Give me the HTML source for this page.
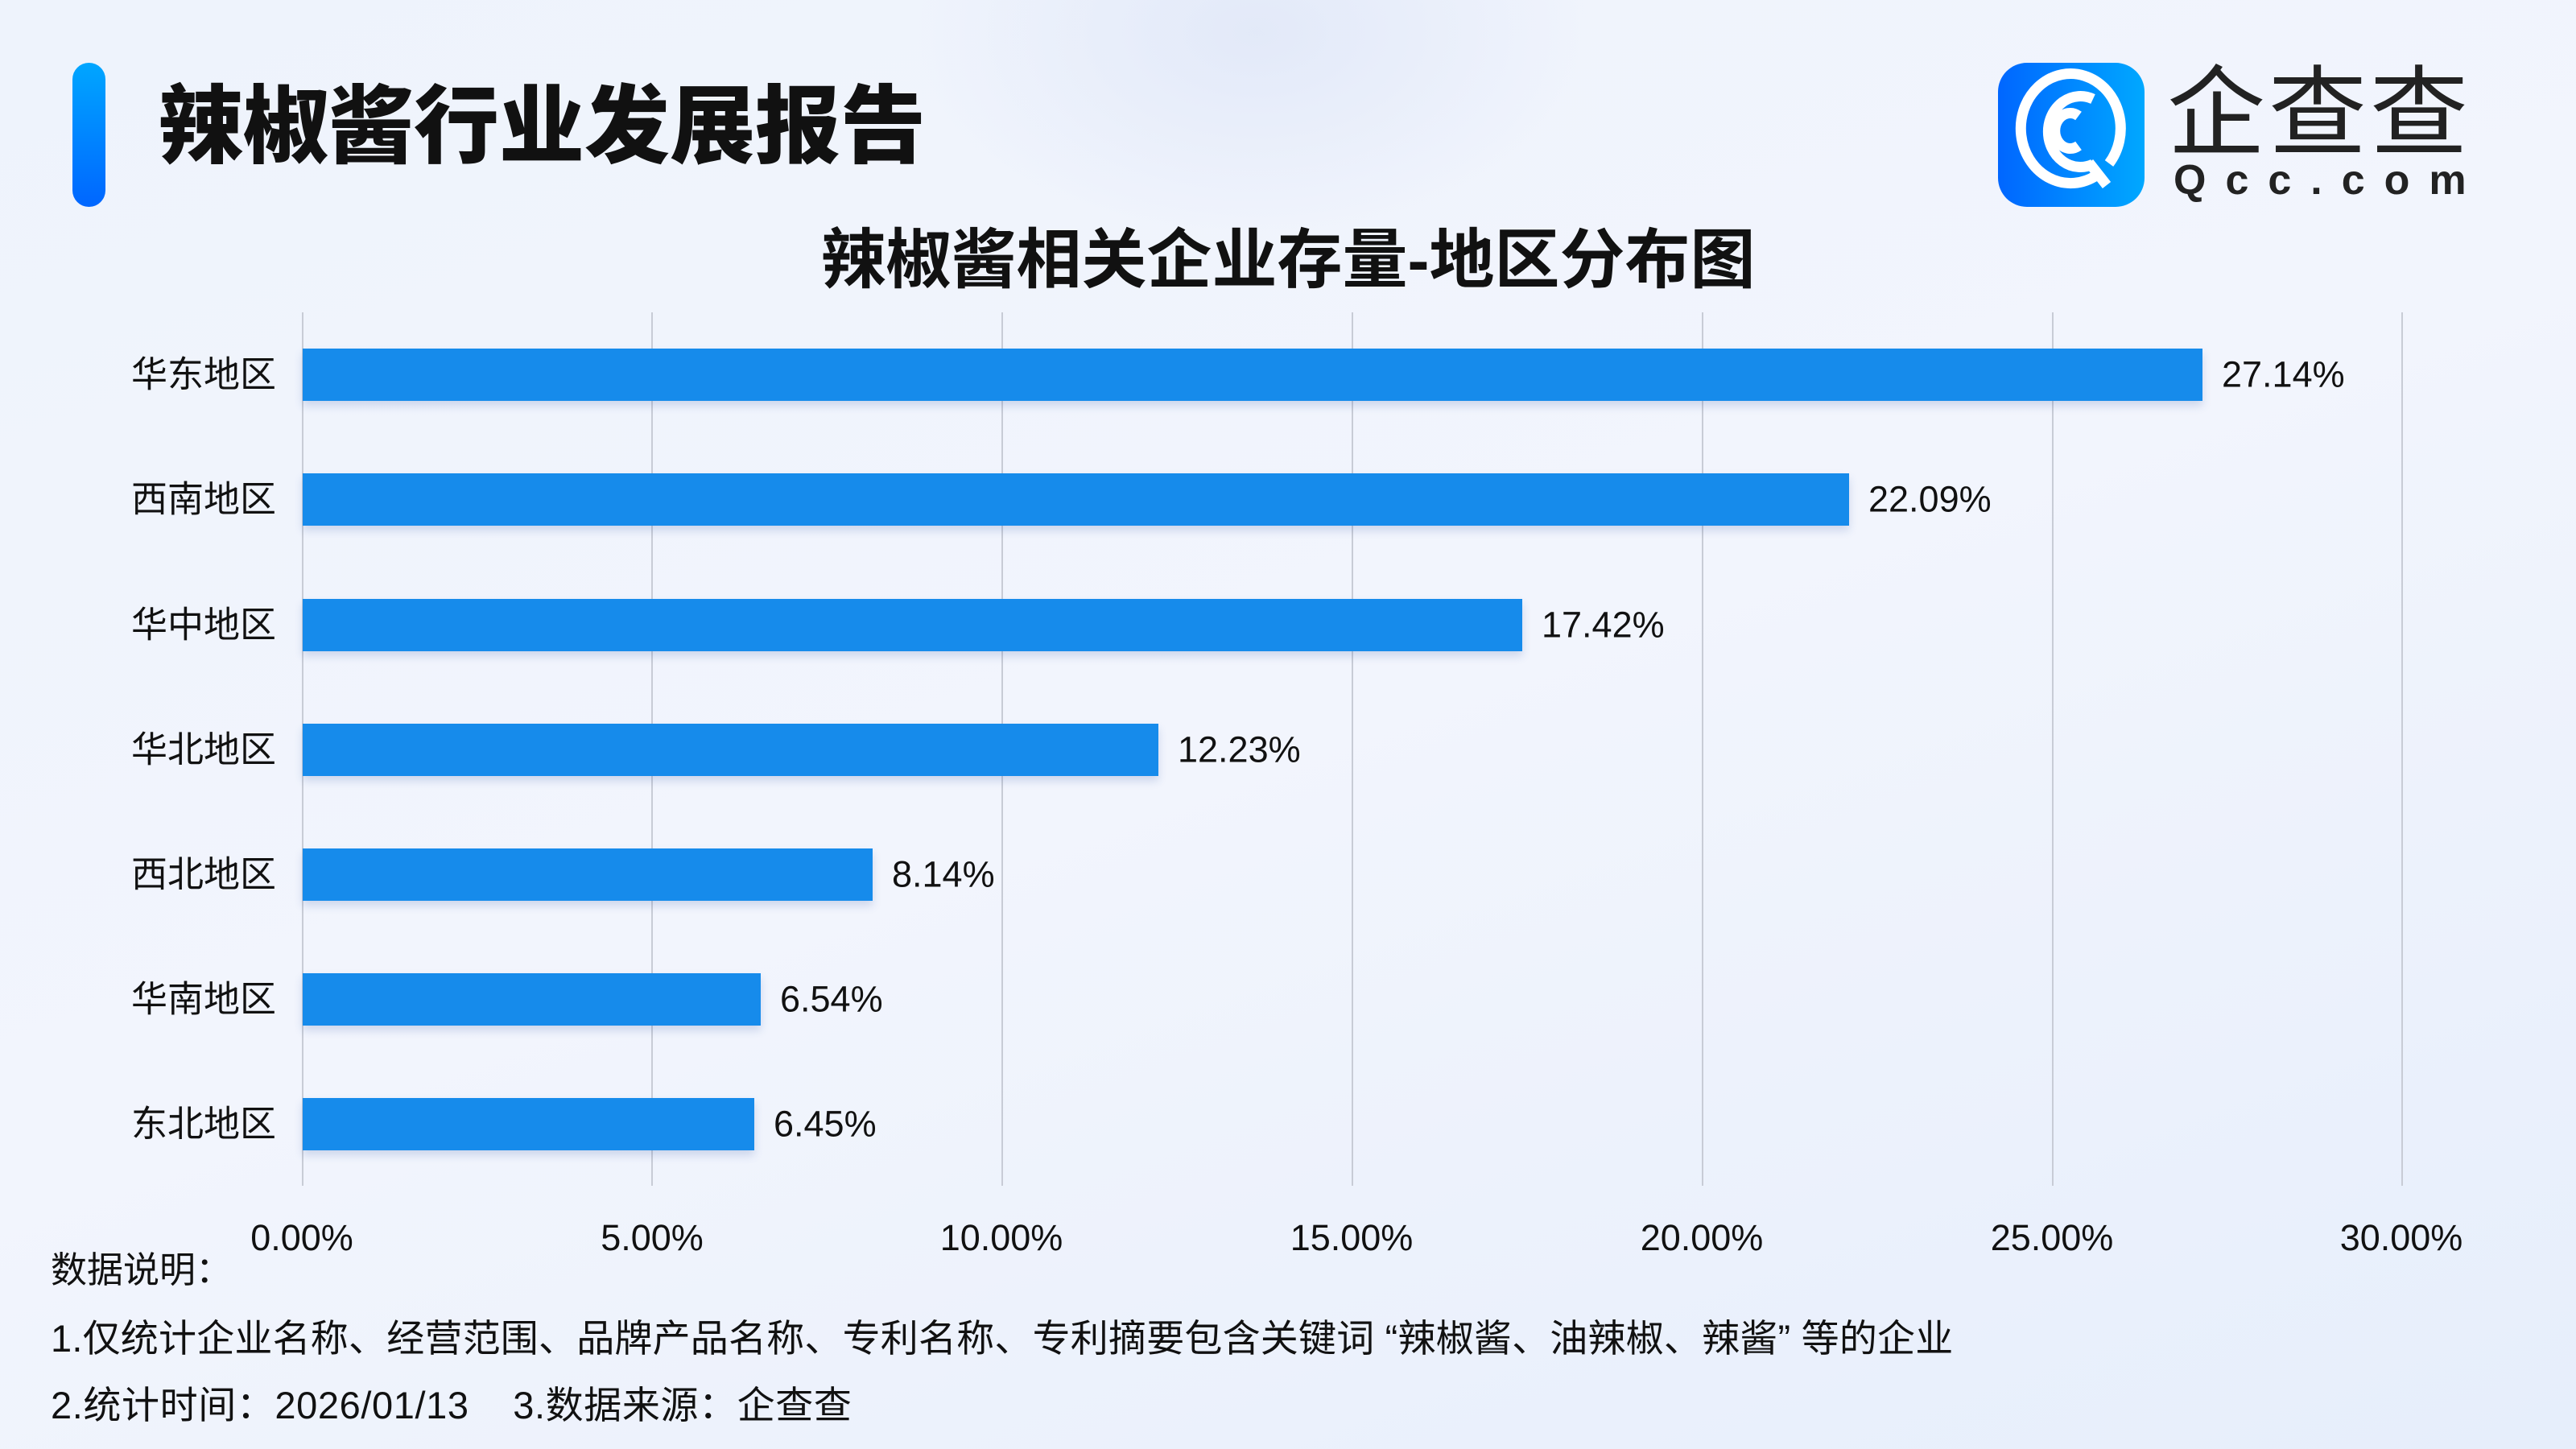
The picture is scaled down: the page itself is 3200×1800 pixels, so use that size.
<!DOCTYPE html>
<html><head><meta charset="utf-8"><style>
*{margin:0;padding:0;box-sizing:border-box}
body{width:3200px;height:1800px;overflow:hidden;position:relative;font-family:"Liberation Sans","Noto Sans CJK SC",sans-serif;color:#111;
background:radial-gradient(ellipse 420px 260px at 1560px 40px,rgba(225,232,248,0.9),rgba(238,243,252,0) 100%),linear-gradient(160deg,#eef3fc 0%,#f2f5fd 50%,#e6eefb 100%);}
.a{position:absolute;white-space:nowrap}
.cat{position:absolute;right:2857px;font-size:45px;line-height:1;transform:translateY(-50%)}
.val{position:absolute;font-size:45px;line-height:1;transform:translateY(-50%)}
.bar{position:absolute;left:376px;height:65px;background:#168beb;box-shadow:0 6px 10px rgba(40,80,160,0.18)}
.grid{position:absolute;top:388px;height:1085px;width:2px;background:#c8ccd6}
.tick{position:absolute;top:1512px;font-size:45px;transform:translateX(-50%)}
</style></head><body>
<div class="a" style="left:90px;top:78px;width:41px;height:179px;border-radius:21px;background:linear-gradient(#00a6ff,#0066ff)"></div>
<div class="a" style="left:196px;top:100px;font-size:106px;font-weight:900;letter-spacing:0px;line-height:1.1">辣椒酱行业发展报告</div>
<div class="a" style="left:2482px;top:78px;width:182px;height:179px;border-radius:36px;background:linear-gradient(90deg,#0066ff,#00a8ff)">
<svg width="182" height="179" viewBox="0 0 182 179"><g fill="none" stroke="#fff" stroke-width="13" stroke-linecap="butt">
<path d="M122 140 A62 68 0 1 1 138 125"/><path d="M118 45 A40 44 0 1 0 118 126"/><path d="M100 66 A19 22 0 1 0 100 103"/><path d="M113 124 L135 152"/></g></svg></div>
<div class="a" style="left:2692px;top:80px;font-size:122px;font-weight:400;letter-spacing:4px;line-height:1;color:#222">企查查</div>
<div class="a" style="left:2700px;top:198px;font-size:52px;font-weight:700;letter-spacing:24px;line-height:1;color:#222">Qcc.com</div>
<div class="a" style="left:0;width:3200px;text-align:center;top:280px;font-size:81px;font-weight:700;line-height:1.1;">辣椒酱相关企业存量-地区分布图</div>
<div class="grid" style="left:375px"></div><div class="grid" style="left:809px"></div><div class="grid" style="left:1244px"></div><div class="grid" style="left:1679px"></div><div class="grid" style="left:2114px"></div><div class="grid" style="left:2549px"></div><div class="grid" style="left:2983px"></div>
<div class="bar" style="top:433px;width:2360px"></div><div class="val" style="left:2760px;top:465px">27.14%</div><div class="cat" style="top:465px">华东地区</div>
<div class="bar" style="top:588px;width:1921px"></div><div class="val" style="left:2321px;top:620px">22.09%</div><div class="cat" style="top:620px">西南地区</div>
<div class="bar" style="top:744px;width:1515px"></div><div class="val" style="left:1915px;top:776px">17.42%</div><div class="cat" style="top:776px">华中地区</div>
<div class="bar" style="top:899px;width:1063px"></div><div class="val" style="left:1463px;top:931px">12.23%</div><div class="cat" style="top:931px">华北地区</div>
<div class="bar" style="top:1054px;width:708px"></div><div class="val" style="left:1108px;top:1086px">8.14%</div><div class="cat" style="top:1086px">西北地区</div>
<div class="bar" style="top:1209px;width:569px"></div><div class="val" style="left:969px;top:1241px">6.54%</div><div class="cat" style="top:1241px">华南地区</div>
<div class="bar" style="top:1364px;width:561px"></div><div class="val" style="left:961px;top:1396px">6.45%</div><div class="cat" style="top:1396px">东北地区</div>
<div class="tick" style="left:375px">0.00%</div><div class="tick" style="left:810px">5.00%</div><div class="tick" style="left:1244px">10.00%</div><div class="tick" style="left:1679px">15.00%</div><div class="tick" style="left:2114px">20.00%</div><div class="tick" style="left:2549px">25.00%</div><div class="tick" style="left:2983px">30.00%</div>
<div class="a" style="left:63px;top:1541px;font-size:45px">数据说明：</div>
<div class="a" style="left:63px;top:1624px;font-size:47px;letter-spacing:0.2px">1.仅统计企业名称、经营范围、品牌产品名称、专利名称、专利摘要包含关键词 “辣椒酱、油辣椒、辣酱” 等的企业</div>
<div class="a" style="left:63px;top:1707px;font-size:47px;letter-spacing:0.6px">2.统计时间：2026/01/13&nbsp;&nbsp;&nbsp;&nbsp;3.数据来源：企查查</div>
</body></html>
